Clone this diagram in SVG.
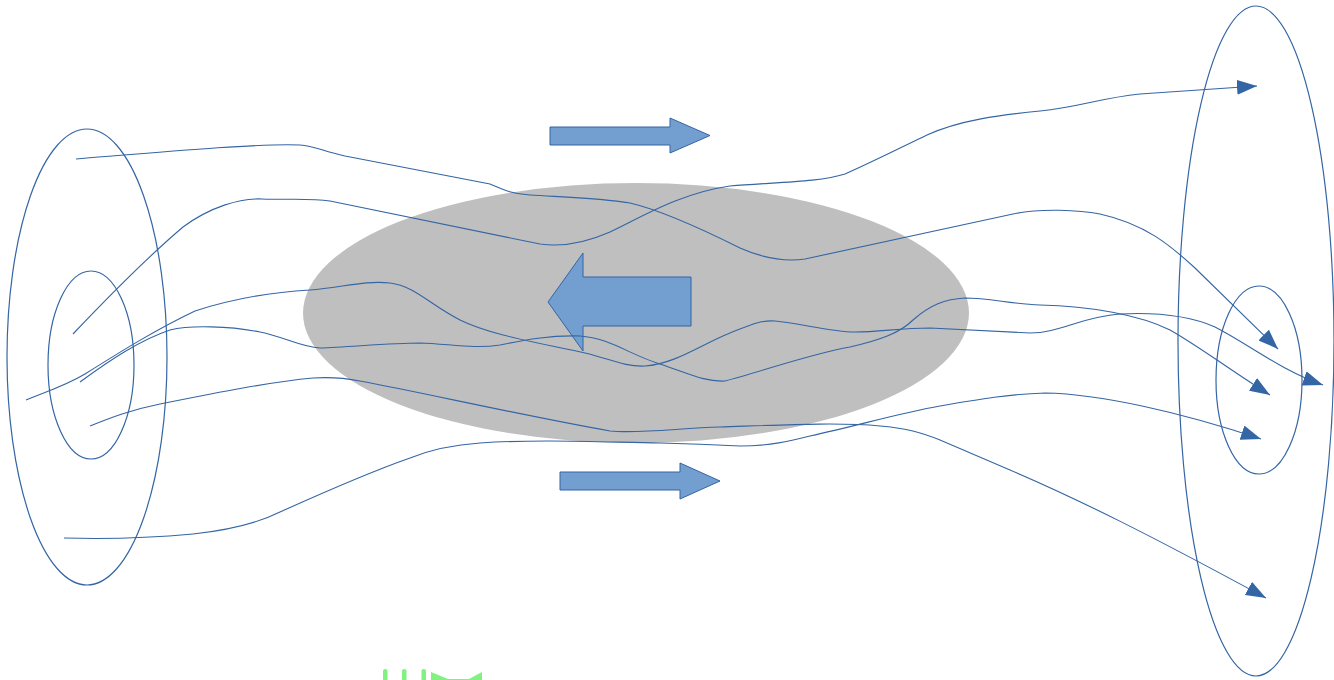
<svg xmlns="http://www.w3.org/2000/svg" width="1334" height="680" viewBox="0 0 1334 680">
  <style>
    .ring { fill: none; stroke: #3465a4; stroke-width: 1.2; }
    .core { fill: #bfbfbf; stroke: none; }
    .block { fill: #729fcf; stroke: #3465a4; stroke-width: 1; }
    .flow { fill: none; stroke: #3465a4; stroke-width: 1.1; }
    .flow.tip { marker-end: url(#head); }
    .mark { fill: #7ff27f; }
  </style>
  <defs>
    <marker id="head" viewBox="0 0 20 15" refX="20" refY="7.5" markerWidth="20" markerHeight="15" markerUnits="userSpaceOnUse" orient="auto">
      <path d="M0,0 L20,7.5 L0,15 Z" fill="#3465a4"/>
    </marker>
  </defs>

  <rect width="1334" height="680" fill="#ffffff"/>

  <!-- central body -->
  <g id="core">
    <ellipse class="core" cx="636" cy="313" rx="333" ry="130"/>
  </g>

  <!-- source rings on the left -->
  <g id="source-outer">
    <ellipse class="ring" cx="87" cy="357" rx="80" ry="228"/>
  </g>
  <g id="source-inner">
    <ellipse class="ring" cx="91" cy="365" rx="43" ry="94"/>
  </g>

  <!-- target rings on the right -->
  <g id="target-outer">
    <ellipse class="ring" cx="1256" cy="341" rx="78" ry="335"/>
  </g>
  <g id="target-inner">
    <ellipse class="ring" cx="1259" cy="380" rx="43" ry="94"/>
  </g>

  <!-- block arrows -->
  <g id="arrow-top">
    <polygon class="block" points="550,127 670,127 670,118 710,135.5 670,153 670,145 550,145"/>
  </g>
  <g id="arrow-bottom">
    <polygon class="block" points="560,472 680,472 680,463 720,481 680,499 680,490 560,490"/>
  </g>
  <g id="arrow-back">
    <polygon class="block" points="548,302 583,253 583,277 691,277 691,326 583,326 583,351"/>
  </g>

  <!-- flow lines -->
  <g id="connectors">
    <path class="flow tip" d="M76,159 C150,153 260,143 300,145 C315,146 322,151 345,156 L490,184 C500,188 510,194 530,195 C560,197 600,198 630,203 C660,210 700,228 740,248 C765,259 785,262 805,259 L1013,214 C1040,208 1080,210 1100,214 C1145,224 1170,245 1195,268 L1278,349"/>
    <path class="flow tip" d="M73,334 C110,295 150,255 183,227 C210,207 240,198 262,199 C290,200 310,198 330,201 L540,244 C560,247 585,243 610,232 C640,218 680,193 730,186 C780,182 820,182 845,174 C870,163 900,148 927,135 C960,120 1000,115 1040,111 C1080,107 1100,98 1140,94 L1257,86"/>
    <path class="flow tip" d="M26,400 C45,392 65,386 85,374 C120,352 155,330 195,311 C235,298 275,292 310,290 C340,288 365,280 390,283 C415,286 430,305 460,320 C490,335 540,343 585,353 C610,359 625,367 645,366 C675,364 700,345 730,333 C750,325 760,320 775,321 C800,323 830,332 855,332 C880,332 900,328 930,328 L1030,333 C1060,333 1080,317 1120,314 C1160,312 1190,316 1215,327 C1250,345 1280,370 1323,385"/>
    <path class="flow tip" d="M80,382 C110,360 140,340 170,330 C190,325 230,326 260,332 C285,337 300,347 320,348 C350,347 390,343 420,343 C450,344 475,349 500,345 C525,340 550,335 580,336 C610,338 630,355 660,364 C690,374 705,382 725,381 C760,372 810,354 850,347 C880,340 900,333 913,320 C930,305 945,299 965,298 C990,298 1010,304 1040,305 C1090,306 1140,315 1170,330 C1200,347 1230,370 1270,395"/>
    <path class="flow tip" d="M90,426 C110,418 130,410 160,404 C220,392 270,382 313,378 C330,377 345,378 360,381 C420,392 520,415 610,431 C640,434 680,428 720,427 C780,425 840,422 880,426 C905,428 920,432 940,440 L1010,470 C1080,500 1150,535 1266,598"/>
    <path class="flow tip" d="M64,538 C100,539 150,538 193,534 C230,530 260,522 280,512 C320,494 370,472 410,458 C430,450 450,445 480,443 C540,439 600,442 660,443 C700,444 720,445 740,446 C770,446 790,441 810,436 C860,425 900,413 940,406 C980,399 1010,394 1045,393 C1100,394 1180,412 1261,439"/>
  </g>

  <!-- green marks at the lower edge -->
  <g id="green-marks">
    <rect class="mark" x="383" y="669" width="4.5" height="14" rx="2.2"/>
    <rect class="mark" x="402" y="669" width="4.5" height="14" rx="2.2"/>
    <rect class="mark" x="421.5" y="669" width="4.5" height="14" rx="2.2"/>
    <polygon class="mark" points="431,672 448,679 469,679 482,672 482,680 431,680"/>
  </g>
</svg>
